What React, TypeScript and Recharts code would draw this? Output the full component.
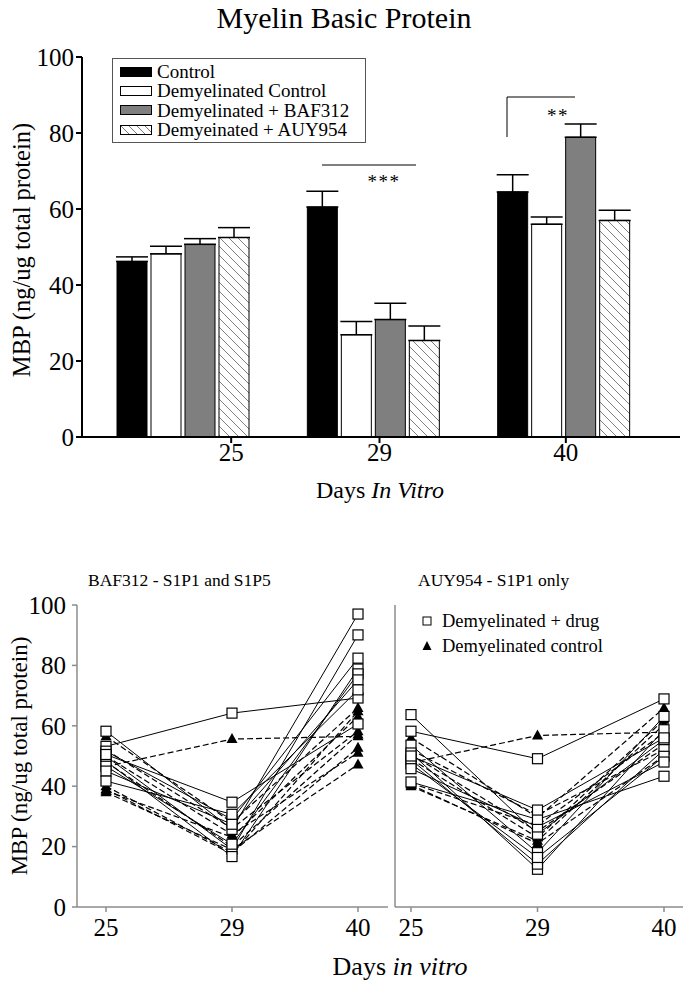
import React from 'react';
import { BarChart, Bar, XAxis, YAxis, ErrorBar, LineChart, Line } from 'recharts';

const FONT = 'Liberation Serif, Times New Roman, serif';

// ---- Top bar chart data ----
const days = ['25', '29', '40'];
const controlMBP = [46.2, 60.5, 64.5];
const controlErr = [1.2, 4.2, 4.5];
const demyelinatedMBP = [48.2, 26.9, 56.0];
const demyelinatedErr = [2.0, 3.5, 1.9];
const baf312MBP = [50.7, 30.9, 78.9];
const baf312Err = [1.5, 4.3, 3.5];
const auy954MBP = [52.5, 25.4, 57.0];
const auy954Err = [2.6, 3.8, 2.7];
const yTicks = [0, 20, 40, 60, 80, 100];

// ---- Bottom panels: individual cultures, values at days 25, 29, 40 ----
const bafDrugSeries = [
  [53.2, 64.2, 69.2],
  [58.2, 25.7, 97.0],
  [49.9, 19.1, 90.1],
  [51.6, 29.0, 82.4],
  [48.3, 16.7, 78.8],
  [46.6, 20.8, 77.2],
  [45.0, 27.4, 75.2],
  [41.7, 30.7, 71.9],
  [50.5, 34.7, 60.6],
];
const bafControlSeries = [
  [46.5, 55.6, 56.5],
  [56.5, 28.0, 65.9],
  [39.0, 17.5, 64.8],
  [38.5, 23.1, 63.1],
  [52.0, 26.0, 58.2],
  [48.0, 20.0, 57.1],
  [40.0, 18.0, 52.7],
  [50.0, 24.0, 51.1],
  [38.0, 19.0, 47.2],
];
const auyDrugSeries = [
  [58.2, 49.1, 68.9],
  [63.7, 24.1, 55.4],
  [53.6, 18.0, 63.1],
  [51.0, 12.5, 58.7],
  [48.8, 14.2, 52.1],
  [47.4, 16.4, 49.9],
  [45.8, 26.5, 48.0],
  [41.4, 29.0, 43.3],
  [50.0, 32.1, 56.0],
];
const auyControlSeries = [
  [47.8, 56.8, 57.9],
  [56.0, 29.6, 65.9],
  [40.0, 21.9, 60.4],
  [41.0, 27.0, 57.7],
  [52.0, 30.5, 52.1],
  [49.0, 23.0, 62.0],
  [50.5, 25.0, 54.0],
  [40.5, 21.0, 50.0],
];

const barData = days.map((day, i) => ({
  day,
  control: controlMBP[i],
  controlErr: [0, controlErr[i]],
  demyelinated: demyelinatedMBP[i],
  demyelinatedErr: [0, demyelinatedErr[i]],
  baf312: baf312MBP[i],
  baf312Err: [0, baf312Err[i]],
  auy954: auy954MBP[i],
  auy954Err: [0, auy954Err[i]],
}));

function buildRows(drug: number[][], ctrl: number[][]) {
  return days.map((day, i) => {
    const row: any = { day };
    drug.forEach((s, j) => (row['d' + j] = s[i]));
    ctrl.forEach((s, j) => (row['c' + j] = s[i]));
    return row;
  });
}
const bafRows = buildRows(bafDrugSeries, bafControlSeries);
const auyRows = buildRows(auyDrugSeries, auyControlSeries);

const tickShift = [48, 6, 2];

const TopXTick = (props: any) => {
  const { x, y, payload, index } = props;
  const px = x + tickShift[index];
  return (
    <g>
      <line x1={px} x2={px} y1={y - 6} y2={y} stroke="#000" strokeWidth={2} />
      <text x={px} y={y + 18} textAnchor="middle" fontSize={25} fontFamily={FONT} fill="#000">
        {payload.value}
      </text>
    </g>
  );
};

const SquareDot = (props: any) => {
  const { cx, cy, index } = props;
  if (cx == null || cy == null) return <g key={index} />;
  return <rect key={index} x={cx - 5} y={cy - 5} width={10} height={10} fill="#fff" stroke="#000" strokeWidth={1.2} />;
};
const TriangleDot = (props: any) => {
  const { cx, cy, index } = props;
  if (cx == null || cy == null) return <g key={index} />;
  return <path key={index} d={`M${cx},${cy - 6} L${cx + 5.5},${cy + 4} L${cx - 5.5},${cy + 4} Z`} fill="#000" />;
};

const legendItems = [
  { label: 'Control', kind: 'black' },
  { label: 'Demyelinated Control', kind: 'white' },
  { label: 'Demyelinated + BAF312', kind: 'gray' },
  { label: 'Demyeinated + AUY954', kind: 'hatch' },
];

const Swatch = ({ kind }: { kind: string }) => (
  <svg width={32} height={10} style={{ display: 'block', flex: 'none' }}>
    <defs>
      <pattern id="hatchLegend" patternUnits="userSpaceOnUse" width={8} height={8}>
        <path d="M0,0 L8,8 M-2,6 L2,10 M6,-2 L10,2" stroke="#777" strokeWidth={1} />
      </pattern>
    </defs>
    <rect
      x={0.5}
      y={0.5}
      width={31}
      height={9}
      stroke="#000"
      strokeWidth={1}
      fill={kind === 'black' ? '#000' : kind === 'gray' ? '#7f7f7f' : kind === 'hatch' ? 'url(#hatchLegend)' : '#fff'}
    />
  </svg>
);

const axisGray = '#8c8c8c';
const tickFont = { fill: '#000', fontSize: 25, fontFamily: FONT };

const LinePanel = ({ rows, nDrug, nCtrl, showYLabels, left, width, yAxisWidth, marginLeft, marginRight, padLeft, padRight }: any) => (
  <div style={{ position: 'absolute', left, top: 560 }}>
    <LineChart width={width} height={400} data={rows} margin={{ top: 45, right: marginRight, bottom: 23, left: marginLeft }}>
      <XAxis
        dataKey="day"
        scale="point"
        padding={{ left: padLeft, right: padRight }}
        height={30}
        axisLine={{ stroke: axisGray, strokeWidth: 1.5 }}
        tickLine={{ stroke: axisGray, strokeWidth: 1.5 }}
        tickSize={5}
        tickMargin={6}
        tick={tickFont}
      />
      <YAxis
        type="number"
        domain={[0, 100]}
        ticks={yTicks}
        width={yAxisWidth}
        axisLine={{ stroke: axisGray, strokeWidth: 1.5 }}
        tickLine={{ stroke: axisGray, strokeWidth: 1.5 }}
        tickSize={5}
        tickMargin={6}
        tick={showYLabels ? tickFont : false}
      />
      {Array.from({ length: nCtrl }).map((_, j) => (
        <Line
          key={'c' + j}
          dataKey={'c' + j}
          stroke="#000"
          strokeWidth={1.2}
          strokeDasharray="6 3"
          dot={TriangleDot}
          activeDot={false}
          isAnimationActive={false}
        />
      ))}
      {Array.from({ length: nDrug }).map((_, j) => (
        <Line
          key={'d' + j}
          dataKey={'d' + j}
          stroke="#000"
          strokeWidth={1}
          dot={SquareDot}
          activeDot={false}
          isAnimationActive={false}
        />
      ))}
    </LineChart>
  </div>
);

export default function App() {
  return (
    <div style={{ position: 'absolute', left: 0, top: 0, width: 685, height: 983, background: '#fff', fontFamily: FONT }}>
      <div style={{ position: 'absolute', left: 0, top: 0 }}>
        <BarChart
          width={685}
          height={520}
          data={barData}
          margin={{ top: 57, right: 5, bottom: 43, left: 37 }}
          barSize={30}
          barGap={4}
        >
          <defs>
            <pattern id="hatchBar" patternUnits="userSpaceOnUse" width={9} height={9}>
              <path d="M0,0 L9,9 M-3,6 L3,12 M6,-3 L12,3" stroke="#808080" strokeWidth={1} />
            </pattern>
          </defs>
          <XAxis
            dataKey="day"
            height={40}
            padding={{ left: 6, right: 21 }}
            axisLine={{ stroke: '#000', strokeWidth: 2 }}
            tickLine={false}
            tickSize={6}
            tickMargin={0}
            tick={<TopXTick />}
          />
          <YAxis
            type="number"
            domain={[0, 100]}
            ticks={yTicks}
            width={45}
            axisLine={{ stroke: '#000', strokeWidth: 2 }}
            tickLine={{ stroke: '#000', strokeWidth: 2 }}
            tickSize={6}
            tickMargin={2}
            tick={tickFont}
          />
          <Bar dataKey="control" fill="#000" stroke="#000" strokeWidth={1} isAnimationActive={false}>
            <ErrorBar dataKey="controlErr" width={16} stroke="#000" strokeWidth={1.5} direction="y" />
          </Bar>
          <Bar dataKey="demyelinated" fill="#fff" stroke="#000" strokeWidth={1} isAnimationActive={false}>
            <ErrorBar dataKey="demyelinatedErr" width={16} stroke="#000" strokeWidth={1.5} direction="y" />
          </Bar>
          <Bar dataKey="baf312" fill="#7f7f7f" stroke="#000" strokeWidth={1} isAnimationActive={false}>
            <ErrorBar dataKey="baf312Err" width={16} stroke="#000" strokeWidth={1.5} direction="y" />
          </Bar>
          <Bar dataKey="auy954" fill="url(#hatchBar)" stroke="#000" strokeWidth={1} isAnimationActive={false}>
            <ErrorBar dataKey="auy954Err" width={16} stroke="#000" strokeWidth={1.5} direction="y" />
          </Bar>
        </BarChart>
      </div>

      {/* legend of bar chart */}
      <div
        style={{
          position: 'absolute',
          left: 112,
          top: 58,
          width: 254,
          height: 85,
          border: '1px solid #555',
          boxSizing: 'border-box',
          padding: '3px 0 0 7px',
          background: '#fff',
        }}
      >
        {legendItems.map((it) => (
          <div key={it.label} style={{ display: 'flex', alignItems: 'center', height: 19.3 }}>
            <Swatch kind={it.kind} />
            <span style={{ marginLeft: 5, fontSize: 19, lineHeight: '19px', color: '#000', whiteSpace: 'nowrap' }}>{it.label}</span>
          </div>
        ))}
      </div>

      <LinePanel
        rows={bafRows}
        nDrug={bafDrugSeries.length}
        nCtrl={bafControlSeries.length}
        showYLabels={true}
        left={0}
        width={392}
        yAxisWidth={50}
        marginLeft={27}
        marginRight={4}
        padLeft={29}
        padRight={30}
      />
      <LinePanel
        rows={auyRows}
        nDrug={auyDrugSeries.length}
        nCtrl={auyControlSeries.length}
        showYLabels={false}
        left={385}
        width={300}
        yAxisWidth={10}
        marginLeft={0}
        marginRight={2}
        padLeft={16}
        padRight={19}
      />

      {/* overlay texts and annotations */}
      <svg width={685} height={983} style={{ position: 'absolute', left: 0, top: 0, pointerEvents: 'none' }}>
        <text x={344} y={28} textAnchor="middle" fontSize={30} fontFamily={FONT} fill="#000">
          Myelin Basic Protein
        </text>
        <text
          x={21}
          y={250}
          transform="rotate(-90 21 250)"
          textAnchor="middle"
          dominantBaseline="central"
          fontSize={24.5}
          fontFamily={FONT}
          fill="#000"
        >
          MBP (ng/ug total protein)
        </text>
        <text x={380} y={498} textAnchor="middle" fontSize={24} fontFamily={FONT} fill="#000">
          Days <tspan fontStyle="italic">In Vitro</tspan>
        </text>

        {/* significance markers */}
        <line x1={322} x2={416} y1={165} y2={165} stroke="#000" strokeWidth={1} />
        <text x={384} y={188} textAnchor="middle" fontSize={19} fontFamily={FONT} fill="#000" letterSpacing={1.5}>
          ***
        </text>
        <path d="M507,137 L507,97 L575,97" fill="none" stroke="#000" strokeWidth={1} />
        <text x={558} y={122} textAnchor="middle" fontSize={19} fontFamily={FONT} fill="#000" letterSpacing={1.5}>
          **
        </text>

        {/* bottom panel titles */}
        <text x={88} y={586} fontSize={17.5} fontFamily={FONT} fill="#000">
          BAF312 - S1P1 and S1P5
        </text>
        <text x={418} y={586} fontSize={17.5} fontFamily={FONT} fill="#000">
          AUY954 - S1P1 only
        </text>

        {/* bottom legend */}
        <rect x={423} y={617} width={8} height={8} fill="#fff" stroke="#000" strokeWidth={1} />
        <text x={442} y={627} fontSize={18.5} fontFamily={FONT} fill="#000">
          Demyelinated + drug
        </text>
        <path d="M427,641 L431.5,650 L422.5,650 Z" fill="#000" />
        <text x={442} y={652} fontSize={18.5} fontFamily={FONT} fill="#000">
          Demyelinated control
        </text>

        <text
          x={19}
          y={756}
          transform="rotate(-90 19 756)"
          textAnchor="middle"
          dominantBaseline="central"
          fontSize={23}
          fontFamily={FONT}
          fill="#000"
        >
          MBP (ng/ug total protein)
        </text>
        <text x={400} y={975} textAnchor="middle" fontSize={26} fontFamily={FONT} fill="#000">
          Days <tspan fontStyle="italic">in vitro</tspan>
        </text>
      </svg>
    </div>
  );
}
